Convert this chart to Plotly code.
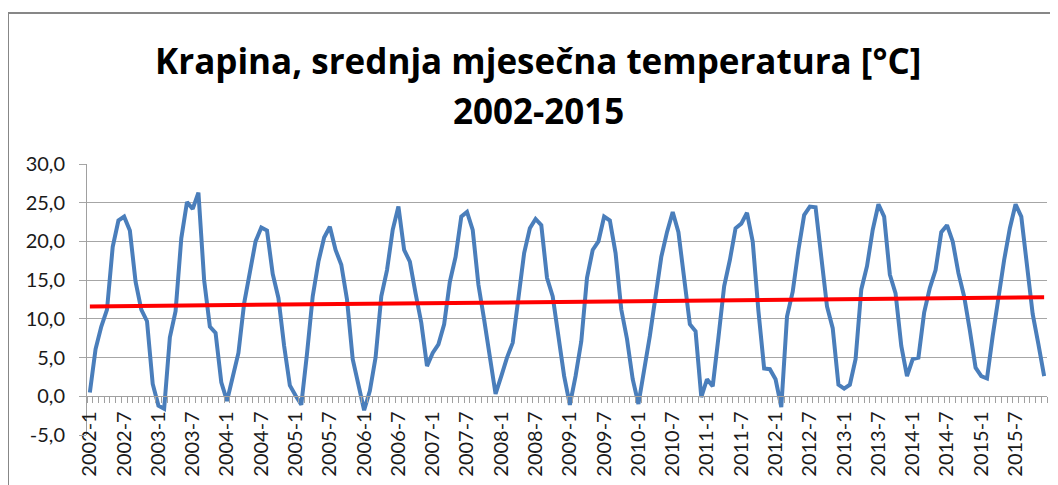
import plotly.graph_objects as go

# ---- data (mean monthly temperature, Krapina, °C) ----
years = list(range(2002, 2016))
t2002 = [0.5, 6.1, 9.0, 11.2, 19.3, 22.7, 23.2, 21.4, 14.8, 11.2, 9.7, 1.6]
t2003 = [-1.2, -1.6, 7.6, 11.0, 20.4, 25.1, 24.2, 26.3, 15.0, 9.0, 8.2, 1.8]
t2004 = [-0.6, 2.6, 5.6, 12.0, 15.9, 20.0, 21.8, 21.4, 15.8, 12.7, 6.5, 1.4]
t2005 = [0.1, -1.1, 5.5, 12.9, 17.4, 20.5, 21.9, 18.9, 17.0, 12.5, 4.8, 1.2]
t2006 = [-1.8, 0.7, 5.0, 12.9, 16.3, 21.5, 24.5, 18.9, 17.4, 13.3, 9.5, 3.9]
t2007 = [5.6, 6.7, 9.3, 14.8, 18.0, 23.2, 23.8, 21.5, 14.4, 9.9, 4.8, 0.3]
t2008 = [2.6, 5.0, 6.9, 12.9, 18.5, 21.7, 22.9, 22.1, 15.3, 12.9, 7.8, 2.6]
t2009 = [-1.1, 2.6, 7.1, 15.3, 18.9, 20.0, 23.2, 22.7, 18.5, 11.2, 7.4, 2.2]
t2010 = [-1.0, 3.3, 7.8, 12.9, 18.0, 21.2, 23.8, 21.2, 15.0, 9.3, 8.4, -0.1]
t2011 = [2.2, 1.3, 7.6, 14.2, 17.6, 21.7, 22.3, 23.7, 20.0, 11.0, 3.6, 3.5]
t2012 = [2.2, -1.4, 10.3, 13.5, 18.9, 23.4, 24.5, 24.4, 18.0, 11.6, 8.8, 1.5]
t2013 = [1.0, 1.5, 4.8, 13.8, 16.8, 21.5, 24.8, 23.2, 15.7, 13.3, 6.5, 2.6]
t2014 = [4.8, 5.0, 10.8, 14.0, 16.3, 21.2, 22.1, 20.0, 15.9, 12.9, 8.5, 3.7]
t2015 = [2.6, 2.3, 7.8, 12.9, 17.6, 21.7, 24.8, 23.2, 16.3, 10.6, 6.7, 2.6]
yearly = [t2002, t2003, t2004, t2005, t2006, t2007, t2008,
          t2009, t2010, t2011, t2012, t2013, t2014, t2015]

# linear trend line end values
trend_start = 11.6
trend_end = 12.8

y_ticks = [-5, 0, 5, 10, 15, 20, 25, 30]

# ---- build series ----
labels = [f"{y}-{m}" for y in years for m in range(1, 13)]
temps = [v for row in yearly for v in row]
tick_text = [lab if lab.split("-")[1] in ("1", "7") else "" for lab in labels]
y_ticktext = [f"{v:.1f}".replace(".", ",") for v in y_ticks]

fig = go.Figure()
fig.add_trace(go.Scatter(
    x=labels, y=temps, mode="lines",
    line=dict(color="#4a7ebb", width=4),
    showlegend=False, hoverinfo="x+y"))
fig.add_trace(go.Scatter(
    x=[labels[0], labels[-1]], y=[trend_start, trend_end], mode="lines",
    line=dict(color="#ff0000", width=4),
    showlegend=False, hoverinfo="skip"))

# page body has an 8px default margin: figure is offset by (8, 8)
OFF = 8
W, H = 1058 - OFF, 485 - OFF
ML = 87 - OFF
MT = 164 - OFF
MR = W - (1047 - OFF)
MB = H - (435 - OFF)
pw, ph = W - ML - MR, H - MT - MB


def px_x(X):  # X in window pixels
    return (X - OFF - ML) / pw


def px_y(Y):  # Y in window pixels
    return (H - MB - (Y - OFF)) / ph


TITLE_FONT = dict(family="Open Sans", size=35, color="#000000")

fig.update_layout(
    width=W, height=H,
    margin=dict(l=ML, r=MR, t=MT, b=MB, autoexpand=False),
    paper_bgcolor="white", plot_bgcolor="white",
    font=dict(family="Lato", color="#1a1a1a"),
    xaxis=dict(
        type="category", categoryorder="array", categoryarray=labels,
        range=[-0.5, len(labels) - 0.5], automargin=False,
        anchor="free", position=(0 - y_ticks[0]) / (y_ticks[-1] - y_ticks[0]),
        showline=True, linecolor="#a0a0a0", linewidth=1,
        showgrid=False, zeroline=False,
        tickmode="array", tickvals=labels, ticktext=tick_text,
        tickson="boundaries", ticks="outside", ticklen=6, tickcolor="#a0a0a0",
        tickangle=-90, tickfont=dict(family="Lato", size=20, color="#1a1a1a"),
        ticklabelstandoff=6,
    ),
    yaxis=dict(
        range=[y_ticks[0], y_ticks[-1]], automargin=False,
        tickmode="array", tickvals=y_ticks, ticktext=y_ticktext,
        showgrid=True, gridcolor="#a6a6a6", gridwidth=1,
        showline=True, linecolor="#a0a0a0", linewidth=1,
        zeroline=False, ticks="outside", ticklen=7, tickcolor="#a6a6a6",
        tickfont=dict(family="Lato", size=20, color="#1a1a1a"),
        ticklabelstandoff=10,
    ),
    annotations=[
        dict(text="<b>Krapina, srednja mjesečna temperatura [°C]</b>",
             xref="paper", yref="paper", x=px_x(538), y=px_y(60),
             xanchor="center", yanchor="middle", showarrow=False,
             font=TITLE_FONT),
        dict(text="<b>2002-2015</b>",
             xref="paper", yref="paper", x=px_x(538), y=px_y(110),
             xanchor="center", yanchor="middle", showarrow=False,
             font=TITLE_FONT),
    ],
    shapes=[
        dict(type="line", xref="paper", yref="paper",
             x0=px_x(8), x1=px_x(1070), y0=px_y(13), y1=px_y(13),
             line=dict(color="#878787", width=2)),
        dict(type="line", xref="paper", yref="paper",
             x0=px_x(8), x1=px_x(8), y0=px_y(13), y1=px_y(500),
             line=dict(color="#878787", width=2)),
    ],
)

fig.write_html("out.html")
